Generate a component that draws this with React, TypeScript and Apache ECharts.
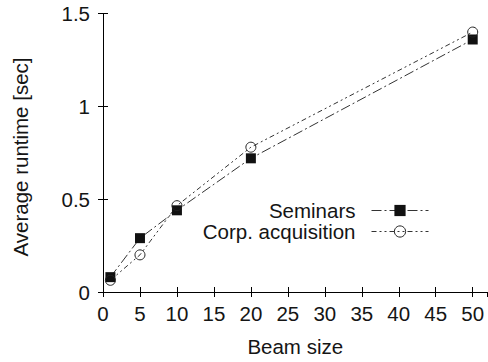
import React, { useEffect, useRef } from "react";
import * as echarts from "echarts";

const beamSizes = [1, 5, 10, 20, 50];
const seminars = [0.08, 0.29, 0.44, 0.72, 1.36];
const corpAcquisition = [0.063, 0.2, 0.465, 0.78, 1.4];
const seriesNames = ["Seminars", "Corp. acquisition"];
const yTitle = "Average runtime [sec]";
const xTitle = "Beam size";

const FONT = "Liberation Sans, Arial, Helvetica, sans-serif";
const TXT = "#151515";

export default function App() {
  const ref = useRef<HTMLDivElement>(null);
  useEffect(() => {
    if (!ref.current) return;
    const chart = echarts.init(ref.current, undefined, { renderer: "svg" });
    const pts = (ys: number[]) => beamSizes.map((x, i) => [x, ys[i]]);
    const frame = { show: true, lineStyle: { color: "#000", width: 1 } };
    const tick = (show: boolean) => ({ show, inside: true, length: 5, lineStyle: { color: "#000", width: 1 } });
    chart.setOption({
      animation: false,
      backgroundColor: "#fff",
      textStyle: { fontFamily: FONT },
      grid: { left: 103, right: 0.5, top: 13.5, bottom: 65, containLabel: false },
      graphic: [
        {
          type: "text",
          x: 20,
          y: 157,
          rotation: Math.PI / 2,
          style: {
            text: yTitle,
            fontSize: 20.5,
            fontFamily: FONT,
            fill: TXT,
            align: "center",
            verticalAlign: "middle",
          },
        },
      ],
      legend: {
        orient: "vertical",
        align: "right",
        right: 54,
        top: 195,
        itemWidth: 57,
        itemHeight: 14,
        itemGap: 0,
        data: seriesNames,
        lineStyle: { width: 1 },
        itemStyle: { borderWidth: 1 },
        textStyle: { fontSize: 20.5, color: TXT, fontFamily: FONT, lineHeight: 20, padding: [0, 11, 0, 0] },
      },
      xAxis: [
        {
          type: "value",
          min: 0,
          max: 52,
          interval: 5,
          axisLine: frame,
          axisTick: tick(true),
          splitLine: { show: false },
          axisLabel: { showMaxLabel: false, fontSize: 20.5, color: TXT, margin: 11, fontFamily: FONT },
          name: xTitle,
          nameLocation: "middle",
          nameGap: 44,
          nameTextStyle: { fontSize: 20.5, color: TXT, fontFamily: FONT },
        },
        {
          type: "value",
          position: "top",
          min: 0,
          max: 52,
          interval: 5,
          axisLine: frame,
          axisTick: tick(true),
          splitLine: { show: false },
          axisLabel: { show: false },
        },
      ],
      yAxis: [
        {
          type: "value",
          min: 0,
          max: 1.5,
          interval: 0.5,
          axisLine: frame,
          axisTick: tick(true),
          splitLine: { show: false },
          axisLabel: { fontSize: 20.5, color: TXT, margin: 13, fontFamily: FONT },
        },
        {
          type: "value",
          position: "right",
          min: 0,
          max: 1.5,
          interval: 0.5,
          axisLine: frame,
          axisTick: tick(true),
          splitLine: { show: false },
          axisLabel: { show: false },
        },
      ],
      series: [
        {
          name: seriesNames[0],
          type: "line",
          data: pts(seminars),
          symbol: "rect",
          symbolSize: 10,
          itemStyle: { color: "#111" },
          lineStyle: { color: "#333", width: 1, type: [10, 3, 2, 3] },
        },
        {
          name: seriesNames[1],
          type: "line",
          data: pts(corpAcquisition),
          symbol: "circle",
          symbolSize: 10,
          itemStyle: { color: "rgba(0,0,0,0)", borderColor: "#222", borderWidth: 1 },
          lineStyle: { color: "#333", width: 1, type: [5, 3, 2, 3, 2, 3] },
        },
      ],
    });
    return () => chart.dispose();
  }, []);
  return <div ref={ref} style={{ position: "fixed", left: 0, top: 0, width: 488, height: 362 }} />;
}
